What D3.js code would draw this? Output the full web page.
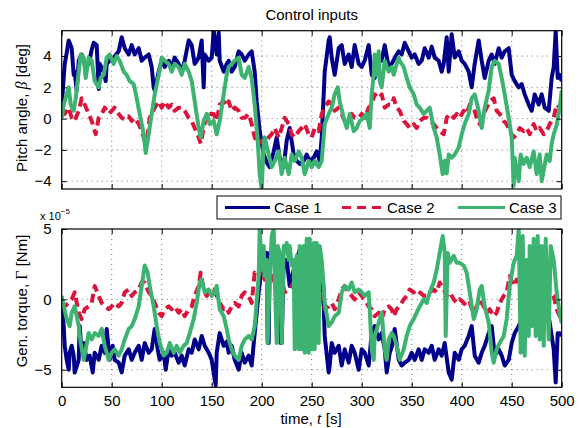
<!DOCTYPE html>
<html>
<head>
<meta charset="utf-8">
<script src="https://cdn.jsdelivr.net/npm/d3@7"></script>
<style>
  body { margin: 0; background: #fff; }
  svg { font-family: "Liberation Sans", Arial, Helvetica, sans-serif; }
</style>
</head>
<body>
<svg id="chart" width="580" height="428"></svg>
<script>
// pitch angle [deg] as [t, value]
const pitchCase1 = [[0,0.8],[3,3.5],[5,4.2],[7,5.0],[10,4.5],[12,2.8],[13,3.0],[15,1.8],[17,3.7],[20,4.1],[23,3.5],[27,3.5],[30,4.4],[32,4.85],[35,4.7],[37,1.9],[38,3.5],[42,3.0],[44,2.4],[45,3.5],[48,3.7],[52,3.9],[57,4.3],[60,5.2],[63,4.5],[67,4.1],[70,4.7],[73,4.1],[77,4.5],[80,3.7],[83,3.9],[87,4.1],[90,3.3],[92,2.0],[93,1.8],[97,3.0],[100,3.7],[103,3.3],[107,3.7],[110,3.3],[113,3.9],[117,3.5],[120,3.0],[123,3.7],[127,5.0],[130,4.7],[133,3.5],[137,3.9],[140,5.0],[142,2.0],[143,4.1],[147,3.7],[150,3.9],[152,5.6],[155,4.1],[157,5.5],[158,3.7],[162,3.0],[165,3.5],[167,3.7],[170,3.0],[173,3.3],[177,4.3],[180,4.1],[183,3.7],[187,4.1],[190,4.3],[193,3.0],[195,1.1],[198,-0.8],[202,-2.3],[205,-2.8],[208,-3.1],[212,-2.1],[215,-1.2],[218,-2.5],[222,-3.1],[225,-1.4],[228,-0.6],[232,-2.3],[235,-2.7],[238,-2.9],[242,-2.7],[245,-2.3],[248,-2.7],[252,-2.5],[255,-2.1],[258,-2.7],[260,-1.2],[262,1.55],[263,3.0],[267,5.0],[268,5.2],[270,3.9],[273,2.8],[277,4.5],[280,4.7],[283,3.5],[287,4.1],[290,3.3],[293,4.7],[297,3.5],[300,3.3],[303,3.7],[307,4.7],[310,2.8],[313,2.6],[317,3.9],[320,3.7],[323,4.7],[327,3.3],[330,3.5],[334,4.0],[337,4.3],[340,4.1],[343,4.85],[347,4.3],[350,3.9],[353,4.1],[357,3.5],[360,3.7],[363,4.5],[367,3.9],[370,4.6],[373,3.9],[377,3.7],[380,3.0],[382,3.5],[385,5.2],[387,3.0],[390,5.4],[393,3.9],[397,4.3],[400,3.7],[403,3.5],[407,3.0],[410,2.0],[413,3.5],[417,5.0],[420,3.7],[423,2.6],[427,3.7],[430,4.1],[433,3.5],[437,4.5],[440,3.9],[443,4.3],[447,4.5],[450,2.8],[453,2.4],[457,2.0],[460,2.2],[463,1.55],[467,0.9],[470,0.5],[473,1.55],[477,0.9],[480,1.55],[483,0.7],[487,0.5],[490,2.6],[492,3.3],[494,5.6],[496,2.6],[498,2.8],[500,2.4]];
const pitchCase2 = [[0,0.5],[3,0.3],[7,0.7],[10,0.05],[13,-0.15],[17,0.5],[20,1.3],[23,0.9],[27,0.3],[30,-0.15],[33,-0.8],[34,-1.0],[37,0.05],[40,0.3],[43,0.7],[47,0.3],[50,0.5],[53,0.7],[57,0.3],[60,0.05],[63,-0.05],[67,0.15],[70,-0.15],[73,0.05],[77,-0.35],[80,-0.8],[83,-1.4],[85,-1.5],[88,0.05],[93,0.7],[97,1.1],[100,0.7],[103,1.1],[107,0.7],[110,0.9],[113,0.5],[117,0.7],[120,0.7],[123,0.5],[127,0.05],[130,-0.15],[133,-0.6],[137,-1.2],[139,-1.6],[142,-0.6],[145,0.3],[148,0.3],[152,0.3],[155,-0.15],[158,0.9],[162,1.1],[165,0.8],[167,1.1],[170,0.5],[173,0.7],[177,0.5],[180,0.05],[183,0.05],[187,0.3],[190,-0.35],[193,-1.2],[197,-1.6],[200,-1.4],[203,-1.6],[207,-1.2],[210,-1.0],[213,-0.6],[217,-1.2],[220,-0.6],[223,0.05],[227,-0.35],[230,-1.0],[233,-1.2],[237,-0.8],[240,-0.6],[243,-0.35],[247,-1.0],[250,-1.2],[253,-0.6],[257,-0.8],[260,0.3],[263,0.7],[267,1.1],[270,0.9],[273,0.5],[277,0.7],[280,0.3],[283,-0.15],[287,0.05],[290,0.3],[293,0.05],[297,0.05],[300,0.3],[303,0.05],[307,0.7],[310,0.9],[313,1.55],[317,1.3],[320,1.55],[323,0.7],[327,0.9],[330,0.9],[332,1.3],[335,0.7],[338,0.5],[342,-0.15],[345,-0.35],[348,-0.6],[352,-0.35],[355,-0.6],[358,-0.15],[362,0.05],[365,0.05],[368,-0.15],[372,-0.35],[375,-0.6],[378,-0.8],[382,-1.0],[385,0.05],[388,0.3],[392,0.05],[395,0.3],[398,0.05],[402,0.5],[405,0.3],[408,0.9],[412,0.7],[415,0.05],[418,-0.35],[422,0.3],[425,0.7],[428,1.1],[432,1.3],[435,0.5],[438,0.3],[442,-0.15],[445,-0.35],[448,-0.8],[452,-1.2],[455,-1.0],[458,-0.6],[462,-0.8],[465,-0.6],[468,-1.0],[472,-0.35],[475,-0.8],[478,-0.6],[482,-1.0],[485,-0.8],[488,-0.35],[492,0.05],[495,0.9],[498,0.7],[500,1.0]];
const pitchCase3 = [[0,0.05],[2,0.9],[5,1.55],[7,2.0],[9,0.9],[12,0.5],[14,1.3],[17,3.0],[19,4.1],[22,3.9],[24,2.6],[27,3.9],[30,3.7],[33,2.4],[37,2.0],[39,2.6],[42,2.8],[45,3.9],[48,4.1],[52,3.5],[55,4.0],[58,3.7],[62,3.0],[65,2.8],[68,2.4],[72,2.2],[75,1.3],[78,0.3],[82,-1.0],[84,-2.2],[87,-1.0],[90,0.3],[93,1.55],[97,2.8],[100,3.9],[103,3.7],[107,3.5],[110,3.0],[113,3.5],[117,3.3],[120,2.8],[123,3.5],[127,3.0],[130,2.4],[133,1.1],[137,-0.6],[139,-1.2],[142,-0.15],[145,0.3],[148,-0.35],[152,-0.15],[155,-1.0],[158,-0.15],[162,1.55],[165,2.8],[167,3.3],[170,3.5],[173,3.7],[177,3.9],[180,2.8],[183,2.6],[187,3.3],[190,2.6],[193,0.9],[196,-1.4],[198,-3.55],[200,-4.5],[202,-1.6],[203,-1.2],[207,-2.3],[210,-3.1],[213,-2.7],[217,-2.1],[220,-3.55],[223,-2.5],[227,-3.55],[230,-2.3],[233,-2.7],[237,-2.1],[240,-2.5],[243,-3.55],[247,-2.7],[250,-3.1],[253,-2.7],[257,-3.1],[260,-2.7],[263,-0.35],[267,0.3],[270,0.7],[273,1.55],[276,2.0],[278,1.1],[282,0.05],[285,-0.6],[288,0.3],[292,-0.8],[295,-0.6],[298,-0.15],[302,0.05],[305,0.3],[308,-0.6],[310,1.55],[312,2.8],[313,4.1],[315,2.8],[317,4.3],[318,2.4],[320,2.0],[323,3.7],[327,3.0],[330,3.3],[332,2.8],[335,3.5],[337,3.9],[338,3.7],[342,3.3],[345,2.6],[348,2.0],[352,1.55],[355,0.9],[358,0.7],[362,0.3],[365,0.5],[368,0.7],[372,-0.6],[375,-1.2],[378,-2.3],[381,-3.55],[383,-2.7],[385,-3.5],[387,-2.3],[390,-2.5],[393,-2.3],[397,-1.85],[400,-1.0],[403,-0.35],[407,0.3],[410,1.3],[413,1.55],[417,0.5],[420,-0.6],[423,0.7],[427,1.8],[430,3.3],[433,3.7],[437,3.5],[440,2.6],[443,1.55],[447,0.05],[450,-1.2],[452,-4.3],[453,-2.5],[457,-4.0],[459,-2.3],[462,-2.9],[465,-2.5],[468,-3.1],[472,-2.1],[475,-3.55],[478,-2.3],[480,-4.0],[482,-3.3],[485,-2.3],[488,-2.7],[490,-1.6],[492,-1.0],[495,-0.4],[498,0.7],[500,1.8]];

// generator torque [x 1e-5 Nm]
const torqueCase1 = [[0,-0.25],[2,-1.9],[3,-3.3],[5,-4.3],[7,-5.0],[8,-3.8],[10,-3.3],[12,-4.0],[13,-5.2],[17,-4.3],[18,-1.9],[20,-3.8],[22,-3.1],[25,-4.3],[28,-4.0],[31,-5.2],[33,-3.8],[37,-4.3],[40,-3.3],[43,-3.8],[45,-2.1],[48,-4.3],[51,-3.3],[53,-4.3],[57,-4.5],[60,-5.2],[63,-4.0],[67,-3.55],[70,-4.3],[73,-3.8],[77,-3.3],[80,-4.3],[83,-3.1],[87,-3.8],[90,-3.55],[93,-2.1],[96,-3.55],[98,-4.3],[102,-3.8],[104,-5.0],[107,-3.55],[110,-4.0],[113,-3.8],[117,-4.5],[120,-4.0],[123,-4.7],[127,-3.55],[130,-3.8],[133,-2.85],[137,-3.55],[140,-2.6],[143,-3.3],[147,-3.8],[150,-4.3],[153,-5.7],[154,-6.1],[155,-3.8],[158,-2.4],[162,-3.3],[165,-3.0],[167,-3.8],[170,-3.3],[173,-4.3],[177,-5.0],[180,-3.8],[183,-4.5],[187,-4.0],[190,-4.7],[193,-2.4],[197,0.5],[200,2.4],[203,3.1],[205,3.3],[206,-3.1],[207,-3.1],[208,3.3],[210,3.1],[213,3.55],[217,3.3],[219,-3.1],[220,-3.1],[222,2.8],[225,2.8],[228,0.95],[232,2.1],[235,2.8],[238,3.55],[242,2.8],[245,3.3],[248,3.8],[252,3.55],[255,3.8],[258,2.8],[262,-0.5],[263,-2.6],[267,-5.2],[268,-4.7],[270,-3.1],[273,-3.8],[277,-3.3],[280,-4.7],[283,-3.55],[287,-4.5],[290,-3.3],[293,-3.8],[297,-5.0],[300,-3.55],[303,-3.8],[307,-4.7],[310,-2.4],[313,-1.9],[317,-2.85],[320,-2.4],[323,-3.55],[325,-5.2],[328,-3.8],[330,-3.4],[333,-2.1],[337,-4.3],[340,-4.7],[343,-4.5],[347,-4.3],[350,-3.8],[353,-4.3],[357,-3.55],[360,-4.3],[363,-3.55],[367,-3.8],[370,-3.3],[373,-4.3],[377,-3.55],[380,-4.0],[383,-3.1],[387,-5.2],[390,-5.7],[393,-3.8],[397,-4.3],[400,-3.55],[403,-3.3],[407,-2.6],[410,-1.9],[413,-4.0],[417,-4.5],[420,-3.8],[423,-3.3],[427,-2.4],[430,-1.9],[433,-4.0],[437,-3.55],[440,-4.0],[443,-4.7],[447,-4.3],[450,-3.1],[453,-2.4],[457,-1.9],[460,-1.4],[463,-0.95],[467,-1.4],[470,-0.95],[473,-0.5],[477,-0.95],[480,-1.2],[483,-0.7],[487,-1.2],[490,-2.6],[492,-3.55],[494,-5.9],[496,-2.4],[498,-2.4],[500,-2.6]];
const torqueCase2 = [[0,-0.25],[3,-0.5],[7,-0.25],[10,0],[13,0.5],[17,-0.95],[20,-1.4],[23,-0.7],[27,-0.5],[30,-0.25],[33,0.95],[37,0.25],[40,-0.25],[43,-0.5],[47,-0.7],[50,-0.5],[53,-0.25],[57,-0.5],[60,-0.25],[63,0.5],[67,0.7],[70,0.25],[73,0.5],[77,0.7],[80,1.2],[83,1.2],[87,0.5],[90,0.25],[93,-0.25],[97,-0.95],[100,-1.2],[103,-0.7],[107,-0.5],[110,-0.7],[113,-0.5],[117,-0.95],[120,-0.7],[123,-1.2],[127,-0.7],[130,-0.5],[133,0.25],[137,0.95],[139,1.9],[142,0.7],[145,0.25],[148,0.5],[152,0.7],[155,0.25],[158,-0.25],[162,-0.7],[165,-0.6],[167,-0.95],[170,-0.5],[173,-0.25],[177,-0.5],[180,0.25],[183,0.5],[187,0.25],[190,-0.25],[193,1.9],[197,1.65],[200,2.1],[203,1.4],[207,1.9],[210,1.65],[213,1.2],[217,0.95],[220,1.4],[223,0.5],[227,0.7],[230,0.95],[233,1.4],[237,1.65],[240,1.2],[243,1.4],[247,1.2],[250,1.65],[253,1.4],[257,0.95],[260,0.5],[263,-0.7],[267,-0.5],[270,-0.25],[273,-0.7],[277,0],[280,0.7],[283,0.95],[287,0.5],[290,0.25],[293,0],[297,0.5],[300,0.25],[303,0],[307,-0.5],[310,-0.7],[313,-1.2],[317,-0.95],[320,-1.4],[323,-0.7],[327,-0.5],[330,-0.7],[332,-1.2],[335,-0.7],[338,-0.5],[342,0],[345,0.25],[348,0.7],[352,0.5],[355,0.7],[358,0.5],[362,0.25],[365,0.25],[368,0.5],[372,0.7],[375,0.5],[378,1.2],[382,0.7],[385,0.25],[388,0.5],[392,0],[395,-0.25],[398,0],[402,-0.25],[405,-0.5],[408,-0.25],[412,-0.95],[415,-0.5],[418,0],[422,-0.5],[425,-0.95],[428,-0.7],[432,-1.2],[435,-0.95],[438,-0.25],[442,0.25],[445,0.5],[448,1.65],[452,0.95],[455,1.4],[458,1.2],[462,1.65],[465,0.7],[468,1.2],[472,0.95],[475,1.2],[478,0.7],[482,1.4],[485,0.95],[488,0.5],[492,0.25],[495,-0.7],[498,-1.2],[500,-1.0]];
const torqueCase3 = [[0,0.25],[2,-0.5],[5,-1.4],[8,-1.9],[10,-0.95],[13,-0.5],[17,-1.9],[19,-3.1],[22,-4.3],[24,-3.55],[27,-2.4],[30,-2.85],[33,-2.4],[37,-2.6],[40,-2.1],[43,-3.3],[47,-4.3],[50,-3.8],[53,-3.55],[57,-4.0],[60,-3.55],[63,-2.85],[67,-2.1],[70,-1.9],[73,-1.4],[77,-0.5],[80,0.95],[83,2.4],[86,1.9],[88,0.95],[92,-0.5],[95,-1.9],[98,-3.1],[102,-4.0],[105,-3.8],[108,-3.1],[112,-3.8],[115,-3.3],[118,-3.8],[122,-3.3],[125,-3.1],[128,-2.4],[132,-1.4],[135,-0.25],[138,1.2],[140,1.4],[143,0.5],[147,0.7],[150,0.25],[153,0.5],[155,0.95],[158,-0.7],[162,-1.2],[165,-2.1],[167,-2.85],[170,-3.55],[173,-4.0],[177,-4.3],[180,-3.3],[183,-2.85],[187,-2.6],[190,-2.85],[193,-1.9],[197,1.65],[198,5.0],[200,2.1],[202,3.8],[203,1.65],[205,2.8],[206,-3.1],[208,1.4],[210,4.5],[212,5.0],[213,1.65],[215,-3.1],[216,3.8],[218,3.3],[220,-3.1],[222,3.8],[223,3.3],[225,4.0],[227,2.8],[228,3.8],[230,2.4],[232,2.8],[233,-3.55],[235,3.1],[237,-3.55],[238,3.8],[240,-3.55],[242,3.8],[243,-3.8],[245,4.3],[247,-3.8],[248,4.3],[250,-3.55],[252,4.0],[253,-3.55],[255,4.0],[257,-3.1],[258,3.8],[260,2.8],[262,0.95],[263,-0.25],[267,-1.9],[270,-1.65],[273,-1.2],[277,-0.95],[280,0.5],[283,0.95],[287,0.7],[290,1.2],[293,0.5],[297,0.7],[300,0.5],[303,0.25],[307,0.5],[308,-0.7],[310,-3.55],[312,-4.3],[313,-2.6],[317,-1.65],[320,-0.95],[323,-3.55],[325,-4.3],[327,-2.85],[330,-2.4],[332,-2.6],[335,-3.3],[338,-4.3],[342,-3.55],[345,-2.6],[348,-1.9],[352,-1.4],[355,-0.95],[358,-0.5],[362,0],[365,-0.25],[368,0.5],[372,1.2],[375,2.1],[378,3.3],[381,4.5],[383,3.3],[384,-2.6],[386,3.3],[388,2.6],[392,3.1],[395,2.6],[398,2.6],[402,2.4],[405,1.9],[408,0.5],[412,-1.4],[415,-0.7],[418,0.7],[420,0.95],[423,-0.5],[427,-1.65],[430,-3.8],[432,-4.5],[435,-3.55],[438,-3.1],[442,-2.6],[445,-1.4],[448,0.95],[452,2.6],[455,3.1],[457,5.0],[459,-3.8],[461,4.5],[463,-4.0],[465,2.8],[467,-2.6],[468,3.8],[470,-1.9],[472,4.3],[474,-2.6],[476,4.5],[478,-2.85],[480,3.8],[482,-3.3],[484,4.3],[487,-2.85],[489,3.8],[492,2.8],[495,0.5],[498,-1.0],[500,-1.7]];

const caseNames = ["Case 1", "Case 2", "Case 3"];
const caseColors = ["#00008B", "#DC143C", "#3CB371"];
const caseDash = [null, "9,5", null];
const timeTicks = [0, 50, 100, 150, 200, 250, 300, 350, 400, 450, 500];
const pitchTicks = [-4, -2, 0, 2, 4];
const torqueTicks = [-5, 0, 5];

const svg = d3.select("#chart");
const left = 61.7, right = 561.7;
const x = d3.scaleLinear().domain([0, 500]).range([left, right]);

function fmt(v) { return v < 0 ? "\u2212" + Math.abs(v) : String(v); }

function panel(id, top, bottom, domain, ticks, series, showX) {
    const y = d3.scaleLinear().domain(domain).range([bottom, top]);
    const g = svg.append("g");

    g.append("rect")
        .attr("x", left).attr("y", top)
        .attr("width", right - left).attr("height", bottom - top)
        .attr("fill", "#fff");

    // dotted grid
    g.append("g").selectAll("line").data(timeTicks.slice(1, -1)).join("line")
        .attr("x1", d => x(d)).attr("x2", d => x(d))
        .attr("y1", top).attr("y2", bottom)
        .attr("stroke", "#777").attr("stroke-dasharray", "1,4");
    g.append("g").selectAll("line").data(ticks.filter(d => y(d) > top + 1 && y(d) < bottom - 1)).join("line")
        .attr("x1", left).attr("x2", right)
        .attr("y1", d => y(d)).attr("y2", d => y(d))
        .attr("stroke", "#777").attr("stroke-dasharray", "1,4");

    svg.append("clipPath").attr("id", id)
        .append("rect").attr("x", left).attr("y", top)
        .attr("width", right - left).attr("height", bottom - top);

    const line = d3.line().x(d => x(d[0])).y(d => y(d[1]));
    g.append("g").attr("clip-path", `url(#${id})`)
        .selectAll("path").data(series).join("path")
        .attr("d", d => line(d))
        .attr("fill", "none")
        .attr("stroke", (d, i) => caseColors[i])
        .attr("stroke-width", 4)
        .attr("stroke-linejoin", "round")
        .attr("stroke-dasharray", (d, i) => caseDash[i]);

    // axes, ticks inside like matlab
    g.append("g").attr("transform", `translate(0,${bottom})`)
        .call(d3.axisBottom(x).tickValues(timeTicks).tickSize(-5).tickSizeOuter(0)
            .tickFormat(showX ? d => d : () => ""))
        .call(a => a.select(".domain").remove())
        .call(a => a.selectAll("text").attr("dy", "1.05em").attr("font-size", 15).attr("font-family", null));
    g.append("g").attr("transform", `translate(0,${top})`)
        .call(d3.axisTop(x).tickValues(timeTicks).tickSize(-5).tickFormat(""))
        .call(a => a.select(".domain").remove());
    g.append("g").attr("transform", `translate(${left},0)`)
        .call(d3.axisLeft(y).tickValues(ticks).tickSize(-5).tickPadding(10).tickFormat(fmt))
        .call(a => a.select(".domain").remove())
        .call(a => a.selectAll("text").attr("font-size", 15).attr("font-family", null));
    g.append("g").attr("transform", `translate(${right},0)`)
        .call(d3.axisRight(y).tickValues(ticks).tickSize(-5).tickFormat(""))
        .call(a => a.select(".domain").remove());

    g.append("rect")
        .attr("x", left).attr("y", top)
        .attr("width", right - left).attr("height", bottom - top)
        .attr("fill", "none").attr("stroke", "#000").attr("stroke-width", 1.2);
    return y;
}

panel("clipTop", 30.7, 189, [-4.5, 5.62], pitchTicks, [pitchCase1, pitchCase2, pitchCase3], false);
panel("clipBot", 229, 387.3, [-6.25, 5], torqueTicks, [torqueCase1, torqueCase2, torqueCase3], true);

// title and labels
svg.append("text").attr("x", 311.7).attr("y", 19.5).attr("text-anchor", "middle")
    .attr("font-size", 15).text("Control inputs");

const yl1 = svg.append("text").attr("transform", "translate(27,108) rotate(-90)")
    .attr("text-anchor", "middle").attr("font-size", 15);
yl1.append("tspan").text("Pitch angle, ");
yl1.append("tspan").attr("font-family", "Liberation Serif, serif").attr("font-style", "italic").attr("font-size", 16).text("\u03B2");
yl1.append("tspan").text(" [deg]");

const yl2 = svg.append("text").attr("transform", "translate(27,301) rotate(-90)")
    .attr("text-anchor", "middle").attr("font-size", 15);
yl2.append("tspan").text("Gen. torque, ");
yl2.append("tspan").attr("font-family", "Liberation Serif, serif").attr("font-size", 16).text("\u0393");
yl2.append("tspan").text(" [Nm]");

const xl = svg.append("text").attr("x", 311).attr("y", 424).attr("text-anchor", "middle").attr("font-size", 15);
xl.append("tspan").text("time, ");
xl.append("tspan").attr("font-family", "Liberation Serif, serif").attr("font-style", "italic").attr("font-size", 16).text("t");
xl.append("tspan").text(" [s]");

const expo = svg.append("text").attr("x", 40).attr("y", 220).attr("font-size", 11);
expo.append("tspan").text("x 10");
expo.append("tspan").attr("dy", -6).attr("font-size", 8).text("\u22125");

// legend
const lg = svg.append("g");
lg.append("rect").attr("x", 217).attr("y", 196).attr("width", 344).attr("height", 23)
    .attr("fill", "#fff").attr("stroke", "#000").attr("stroke-width", 1);
const legendX = [[225, 270], [342, 383], [458, 505]];
caseNames.forEach((name, i) => {
    lg.append("line")
        .attr("x1", legendX[i][0]).attr("x2", legendX[i][1])
        .attr("y1", 207.5).attr("y2", 207.5)
        .attr("stroke", caseColors[i]).attr("stroke-width", 3)
        .attr("stroke-dasharray", i === 1 ? "9,6" : null);
    lg.append("text").attr("x", legendX[i][1] + 4).attr("y", 213)
        .attr("font-size", 15).text(name);
});
</script>
</body>
</html>
